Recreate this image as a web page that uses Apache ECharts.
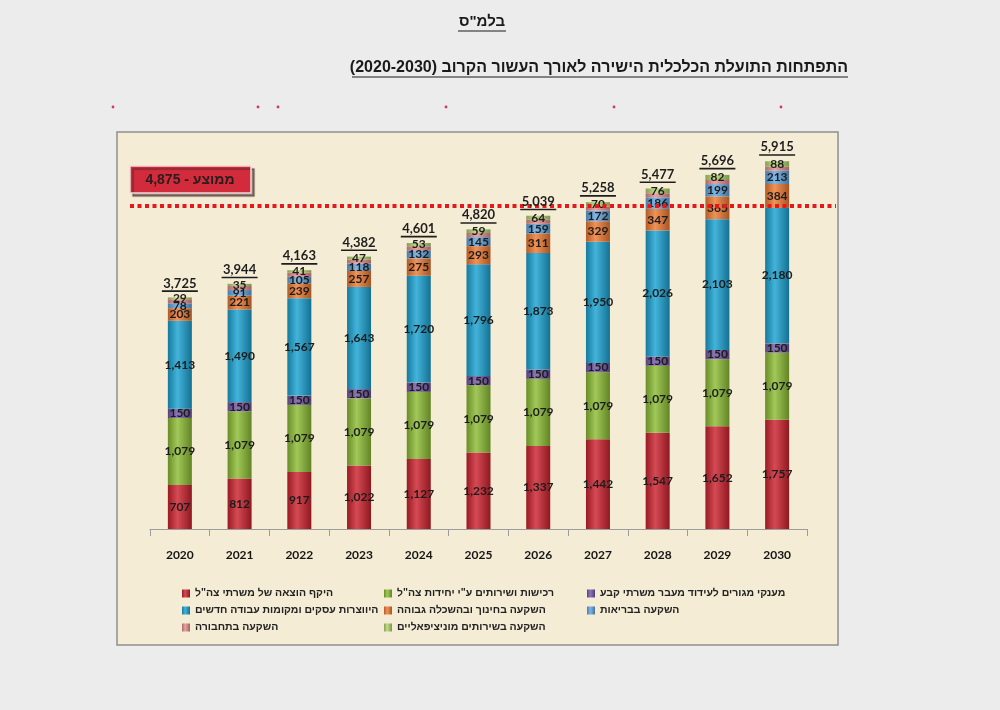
<!DOCTYPE html>
<html>
<head>
<meta charset="utf-8">
<script src="https://cdn.jsdelivr.net/npm/echarts@6/dist/echarts.min.js"></script>
<style>
  html, body { margin: 0; padding: 0; background: #ececec; }
  #chart { width: 1000px; height: 710px; }
</style>
</head>
<body>
<div id="chart" dir="rtl"></div>
<script>
// years on the x axis
const years = ['2020', '2021', '2022', '2023', '2024', '2025', '2026', '2027', '2028', '2029', '2030'];

// stacked segments, bottom to top
const idfSpending = [707, 812, 917, 1022, 1127, 1232, 1337, 1442, 1547, 1652, 1757];
const unitPurchases = [1079, 1079, 1079, 1079, 1079, 1079, 1079, 1079, 1079, 1079, 1079];
const housingGrants = [150, 150, 150, 150, 150, 150, 150, 150, 150, 150, 150];
const newBusinesses = [1413, 1490, 1567, 1643, 1720, 1796, 1873, 1950, 2026, 2103, 2180];
const educationInvest = [203, 221, 239, 257, 275, 293, 311, 329, 347, 365, 384];
const healthInvest = [78, 91, 105, 118, 132, 145, 159, 172, 186, 199, 213];
const transportInvest = [66, 66, 65, 66, 65, 66, 66, 66, 66, 66, 64];
const municipalInvest = [29, 35, 41, 47, 53, 59, 64, 70, 76, 82, 88];

// totals printed above each bar
const totals = [3725, 3944, 4163, 4382, 4601, 4820, 5039, 5258, 5477, 5696, 5915];

// average box text and where the dotted line sits in the picture
const averageValue = 4875;
const averageLineLevel = 5200;

const chart = echarts.init(document.getElementById('chart'));

const hebFont = '"Liberation Sans", "DejaVu Sans", Arial, sans-serif';
const numFont = 'Lato, "Liberation Sans", sans-serif';

const fmt = v => Number(v).toLocaleString('en-US');

const shade = (hex, f) => {
    const n = parseInt(hex.slice(1), 16);
    let r = (n >> 16) & 255, g = (n >> 8) & 255, b = n & 255;
    const mix = c => f < 0 ? Math.round(c * (1 + f)) : Math.round(c + (255 - c) * f);
    return 'rgb(' + mix(r) + ',' + mix(g) + ',' + mix(b) + ')';
};

const cylinder = hex => new echarts.graphic.LinearGradient(0, 0, 1, 0, [
    {offset: 0, color: shade(hex, -0.25)},
    {offset: 0.4, color: shade(hex, 0.18)},
    {offset: 1, color: shade(hex, -0.3)}
]);

const segments = [
    {name: 'היקף הוצאה של משרתי צה"ל', data: idfSpending, color: '#cc222e', label: true},
    {name: 'רכישות ושירותים ע"י יחידות צה"ל', data: unitPurchases, color: '#8cbc34', label: true},
    {name: 'מענקי מגורים לעידוד מעבר משרתי קבע', data: housingGrants, color: '#7459a8', label: true},
    {name: 'היווצרות עסקים ומקומות עבודה חדשים', data: newBusinesses, color: '#1ba2d2', label: true},
    {name: 'השקעה בחינוך ובהשכלה גבוהה', data: educationInvest, color: '#ee7a32', label: true},
    {name: 'השקעה בבריאות', data: healthInvest, color: '#62a6e0', label: true},
    {name: 'השקעה בתחבורה', data: transportInvest, color: '#e58d8f', label: false},
    {name: 'השקעה בשירותים מוניציפאליים', data: municipalInvest, color: '#b3d46f', label: true}
];

const barSeries = segments.map(s => ({
    name: s.name,
    type: 'bar',
    stack: 'total',
    barWidth: 24,
    data: s.data,
    itemStyle: {color: cylinder(s.color)},
    label: {
        show: s.label,
        position: 'inside',
        color: '#1c1c1c',
        fontFamily: numFont,
        fontWeight: 'bold',
        fontSize: 12,
        formatter: p => fmt(p.value)
    },
    emphasis: {disabled: true}
}));

const legendBase = {
    orient: 'vertical',
    top: 583,
    icon: 'rect',
    itemWidth: 8,
    itemHeight: 8,
    itemGap: 6,
    selectedMode: false,
    textStyle: {fontFamily: hebFont, fontWeight: 'bold', fontSize: 10.5, color: '#222'}
};

option = {
    backgroundColor: '#ececec',
    animation: false,
    grid: {left: 150, right: 193, top: 156, bottom: 181},
    xAxis: {
        type: 'category',
        data: years,
        axisLine: {lineStyle: {color: '#9c9c9c', width: 1}},
        axisTick: {show: true, length: 7, lineStyle: {color: '#9c9c9c'}},
        axisLabel: {color: '#151515', fontFamily: numFont, fontWeight: 'bold', fontSize: 12, margin: 20}
    },
    yAxis: {type: 'value', min: 0, max: 6000, show: false},
    legend: [
        {...legendBase, left: 177, data: [segments[0].name, segments[3].name, segments[6].name]},
        {...legendBase, left: 379, data: [segments[1].name, segments[4].name, segments[7].name]},
        {...legendBase, left: 582, data: [segments[2].name, segments[5].name]}
    ],
    graphic: [
        {type: 'rect', z: -10, shape: {x: 117, y: 132, width: 721, height: 513},
            style: {fill: '#f4ecd4', stroke: '#8e8e8e', lineWidth: 1.5}},
        {type: 'text', x: 482, y: 22, style: {text: 'בלמ"ס', fontFamily: hebFont, fontWeight: 'bold',
            fontSize: 15, fill: '#1a1a1a', align: 'center', verticalAlign: 'middle'}},
        {type: 'line', shape: {x1: 458, y1: 31, x2: 506, y2: 31}, style: {stroke: '#1a1a1a', lineWidth: 1.2}},
        {type: 'text', x: 848, y: 68, style: {text: 'התפתחות התועלת הכלכלית הישירה לאורך העשור הקרוב (2020-2030)',
            fontFamily: hebFont, fontWeight: 'bold', fontSize: 16, fill: '#1a1a1a', align: 'right', verticalAlign: 'middle'}},
        {type: 'line', shape: {x1: 352, y1: 77, x2: 848, y2: 77}, style: {stroke: '#1a1a1a', lineWidth: 1.2}},
        {type: 'group', children: [113, 258, 278, 446, 614, 781].map(x => ({
            type: 'circle', shape: {cx: x, cy: 107, r: 1.4}, style: {fill: '#d9336b'}
        }))},
        {type: 'rect', shape: {x: 130, y: 166, width: 121, height: 27},
            style: {fill: '#d22b3c', stroke: '#f3d9d9', lineWidth: 1.5,
                shadowColor: 'rgba(60,40,40,0.55)', shadowOffsetX: 3, shadowOffsetY: 3, shadowBlur: 1}},
        {type: 'text', x: 190, y: 180, z: 10, style: {text: 'ממוצע - ' + fmt(averageValue), fontFamily: hebFont,
            fontWeight: 'bold', fontSize: 14, fill: '#2a1d1d', align: 'center', verticalAlign: 'middle'}}
    ],
    series: [
        ...barSeries,
        {
            name: 'totals',
            type: 'scatter',
            data: totals,
            symbol: 'circle',
            symbolSize: 1,
            silent: true,
            z: 20,
            itemStyle: {color: 'rgba(0,0,0,0)', opacity: 1},
            label: {
                show: true,
                position: 'top',
                distance: 5,
                color: '#1e1e1e',
                opacity: 1,
                formatter: p => '{v|' + fmt(p.value) + '}\n{u|}',
                rich: {
                    v: {fontFamily: numFont, fontWeight: 'bold', fontSize: 13, color: '#1e1e1e', align: 'center', lineHeight: 14},
                    u: {width: 36, height: 1.6, backgroundColor: '#1e1e1e', align: 'center'}
                }
            },
            markLine: {
                silent: true,
                symbol: ['none', 'none'],
                label: {show: false},
                lineStyle: {color: '#e3191c', width: 4, type: [4, 3.5], opacity: 1},
                data: [[{x: 130, yAxis: averageLineLevel}, {x: 836, yAxis: averageLineLevel}]]
            }
        }
    ]
};

chart.setOption(option);
</script>
</body>
</html>
